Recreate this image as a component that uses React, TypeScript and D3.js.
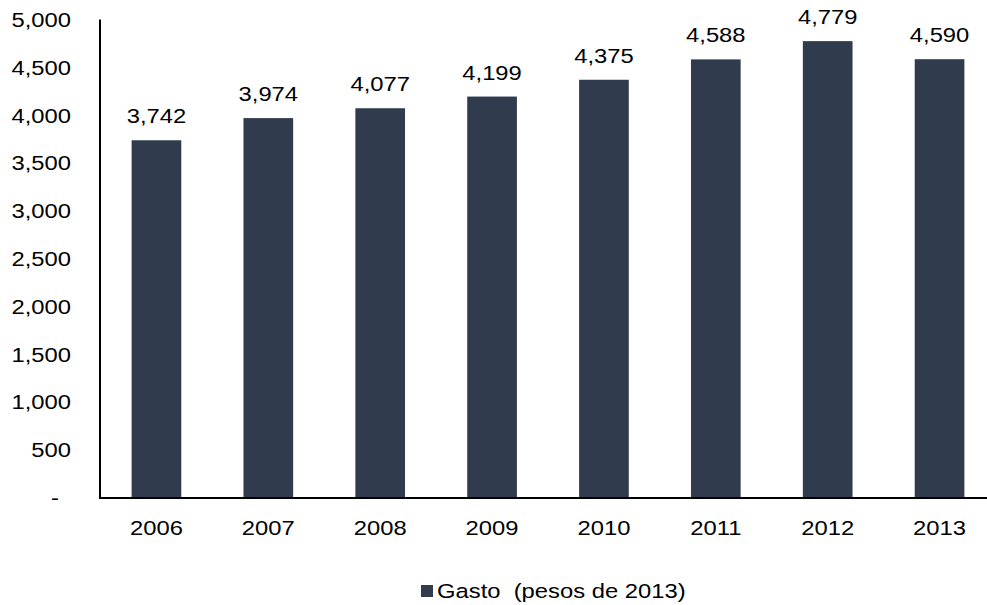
import React from "react";
import * as d3 from "d3";

const categories = ["2006", "2007", "2008", "2009", "2010", "2011", "2012", "2013"];
const values = [3742, 3974, 4077, 4199, 4375, 4588, 4779, 4590];
const yTicks = [0, 500, 1000, 1500, 2000, 2500, 3000, 3500, 4000, 4500, 5000];
const seriesName = "Gasto  (pesos de 2013)";

const W = 987;
const H = 605;
const FONT = "'Liberation Sans', Arial, Helvetica, sans-serif";
const FS = 19.5;
const SX = 1.22;
const BAR = "#303c4e";

function T({ x, y, anchor = "start", children }: { x: number; y: number; anchor?: string; children: React.ReactNode }) {
  return (
    <text
      transform={`translate(${x},${y}) scale(${SX},1)`}
      textAnchor={anchor}
      fontFamily={FONT}
      fontSize={FS}
      fill="#000"
      style={{ whiteSpace: "pre" }}
    >
      {children}
    </text>
  );
}

export default function App() {
  const x = d3.scaleBand<string>().domain(categories).range([100.5, 995.5]).paddingInner(0.556).paddingOuter(0.278);
  const y = d3.scaleLinear().domain([0, 5000]).range([498, 20]);
  const fmt = d3.format(",");
  return (
    <svg width={W} height={H} style={{ position: "absolute", left: 0, top: 0, background: "#fff" }}>
      {categories.map((c, i) => {
        const cx = (x(c) as number) + x.bandwidth() / 2;
        return (
          <g key={c}>
            <rect x={x(c)} y={y(values[i])} width={x.bandwidth()} height={y(0) - y(values[i])} fill={BAR} />
            <T x={cx} y={y(values[i]) - 17} anchor="middle">{fmt(values[i])}</T>
            <T x={cx} y={535} anchor="middle">{c}</T>
          </g>
        );
      })}
      {yTicks.map((t) => (
        <T key={t} x={t === 0 ? 59 : 71} y={y(t) + 7} anchor="end">
          {t === 0 ? "-" : fmt(t)}
        </T>
      ))}
      <line x1={100} x2={100} y1={y(5000) - 0.5} y2={y(0)} stroke="#000" strokeWidth={2} />
      <line x1={99} x2={W} y1={y(0)} y2={y(0)} stroke="#000" strokeWidth={2} />
      <rect x={421} y={585} width={12} height={12} fill={BAR} />
      <T x={437} y={598}>{seriesName}</T>
    </svg>
  );
}
